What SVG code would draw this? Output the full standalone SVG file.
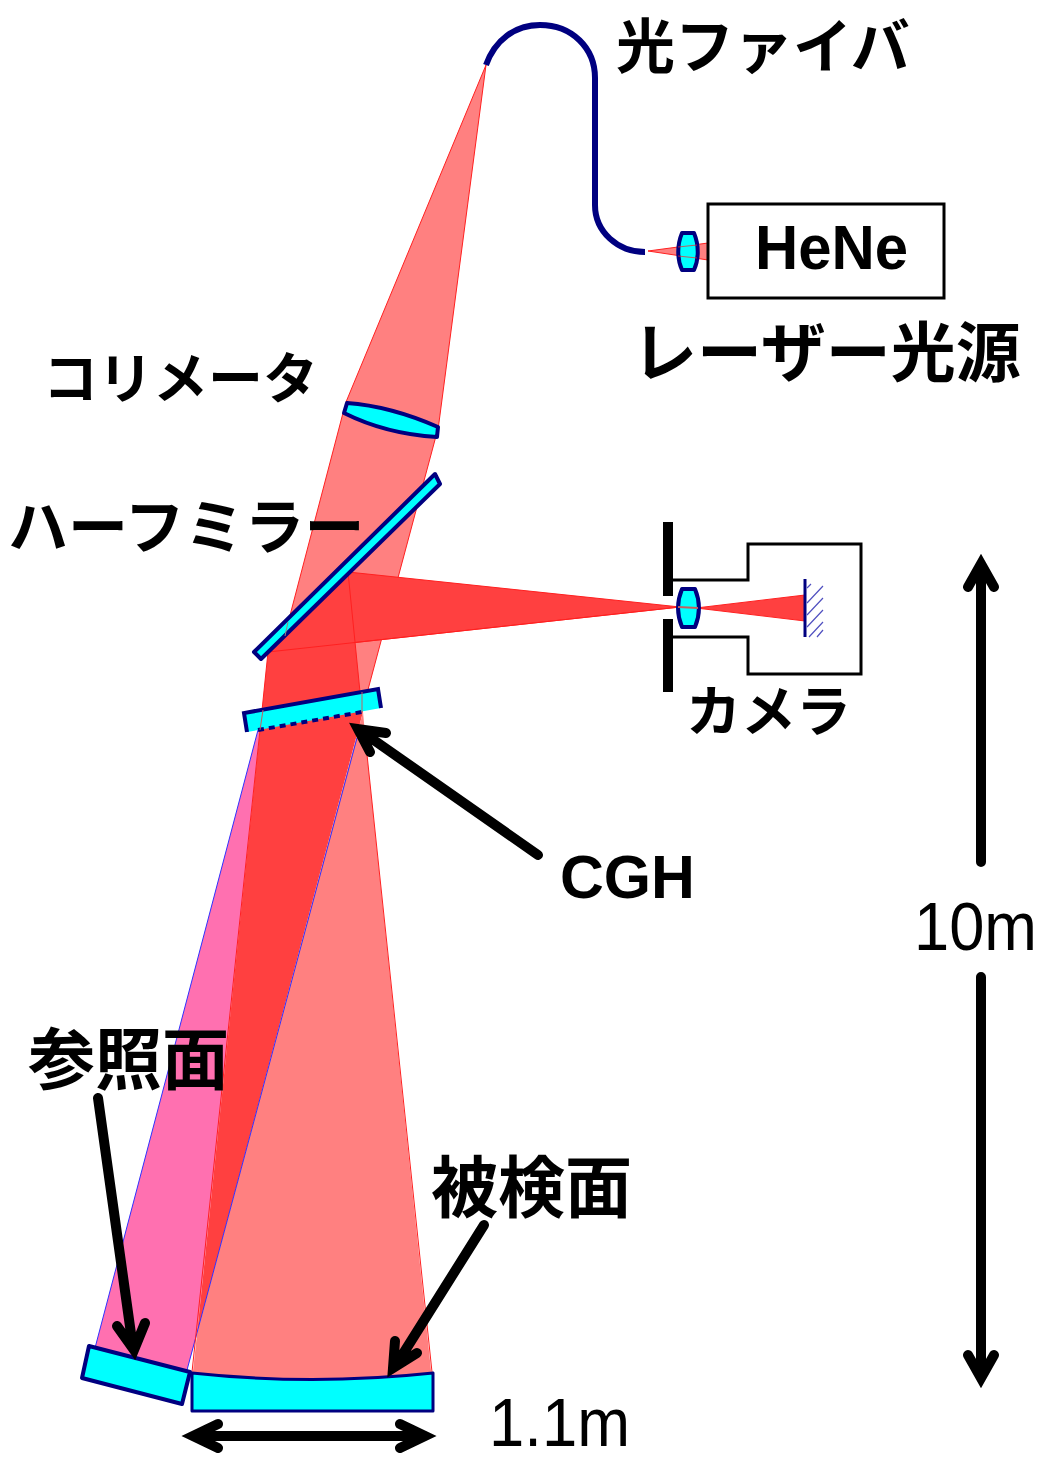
<svg xmlns="http://www.w3.org/2000/svg" width="1057" height="1459" viewBox="0 0 1057 1459">
<style>
.optic{fill:#00ffff;stroke:#000080;stroke-width:4;stroke-linejoin:round}
.beam{fill:#ff8080;stroke:#ff2020;stroke-width:1}
.dark{fill:#ff4040;stroke:#ff2020;stroke-width:1}
.pink{fill:#ff70b0;stroke:none}
.solid{fill:#ff4040;stroke:none}
.sal{fill:#ff8080;stroke:none}
.redl{stroke:#ff2020;stroke-width:1;fill:none}
.bluel{stroke:#3030ff;stroke-width:1;fill:none}
.box{fill:none;stroke:#000;stroke-width:3}
.arrow{fill:none;stroke:#000;stroke-width:10;stroke-linecap:round;stroke-linejoin:miter;stroke-miterlimit:10}
.wall{fill:#000}
.jp{font-family:"Noto Sans CJK JP","Noto Sans",sans-serif;font-weight:700;fill:#000}
.la{font-family:"Liberation Sans",Arial,sans-serif;fill:#000}
</style>
<g id="beams">
<polygon class="beam" points="486,65 346,402 438,430"/>
<polygon class="beam" points="343,413 436,436 362,712 260,730"/>
<polygon class="dark" points="348,572 680,607 268,652"/>
<polygon class="solid" points="268,652 348,572 362,712 260,730"/>
<path class="redl" d="M268,652L260,730M348,572L362,712M268,652L680,607"/>
<polygon class="dark" points="696,608 805,595 805,621"/>
<polygon class="beam" points="648,251 708,243 708,260"/>
<polygon class="pink" points="258,730 260,730 197,1334 187,1370 95,1348"/>
<polygon class="solid" points="260,730 363,712 197,1334"/>
<polygon class="sal" points="363,712 366,745 432,1380 192,1380 197,1334"/>
<path class="bluel" d="M258,730L95,1348M357,738L187,1370"/>
<path class="redl" d="M366,745L432,1372M260,730L192,1372"/>
</g>
<g id="fiber"><path d="M486,65C495,40 515,25 540,25C572,25 595,48 595,78L595,205C595,232 618,252 645,252" fill="none" stroke="#000080" stroke-width="6"/></g>
<g id="laser"><rect class="box" x="708" y="204" width="236" height="94"/>
<text class="la" x="755" y="269" font-size="63" font-weight="700" textLength="153" lengthAdjust="spacingAndGlyphs">HeNe</text></g>
<g id="laser-lens"><path class="optic" d="M682,233L694,233C699,245 699,259 694,270L682,270C677,259 677,245 682,233Z"/>
<path d="M678,247L697,245M678,256L697,258" stroke="#ff2020" stroke-width="1" fill="none" opacity=".7"/></g>
<g id="collimator"><path class="optic" d="M347,403Q390,406 438,427L437,437Q386,434 344,413Z"/></g>
<g id="half-mirror"><polygon class="optic" points="435,474 440,484 261,659 254,652"/>
<path d="M288,622L285,636" stroke="#a08080" stroke-width="1"/></g>
<g id="cgh"><polygon points="244,713 378,689 381,708 247,732" fill="#00ffff"/>
<path d="M247,732L244,713L378,689L381,708" fill="none" stroke="#000080" stroke-width="4"/>
<path d="M258,730L362,712" fill="none" stroke="#000080" stroke-width="4" stroke-dasharray="6 5"/>
<path d="M263,710L260,730M362,692L362,712" stroke="#c06060" stroke-width="1" fill="none"/></g>
<g id="camera">
<rect class="wall" x="663" y="522" width="10" height="74"/><rect class="wall" x="663" y="619" width="10" height="73"/>
<path class="box" d="M672,580H748V544H861V674H748V637H672"/>
<path class="optic" d="M682,589L695,589C700,601 700,615 695,627L682,627C677,615 677,601 682,589Z"/>
<path d="M678,607L698,608" stroke="#c06060" stroke-width="2" fill="none"/>
<path d="M805,579V637" stroke="#000080" stroke-width="3"/>
<path d="M807,588L811,584M807,603L823,586M807,615L823,598M807,627L823,610M809,637L823,622M817,637L823,630" stroke="#5050c0" stroke-width="1.2" fill="none"/>
</g>
<g id="reference-mirror"><polygon class="optic" points="89,1346 190,1372 182,1404 82,1378"/></g>
<g id="test-mirror"><path class="optic" style="stroke-width:3" d="M192,1373Q312,1386 433,1373V1411H192Z"/></g>
<g id="connectors">
<path class="arrow" d="M538,855L358,729M386,733L358,729L370,752"/>
<path class="arrow" d="M98,1098L133,1348M117,1326L134,1350L145,1323"/>
<path class="arrow" d="M484,1225L396,1365M395,1341L393,1368L417,1353"/>
<path class="arrow" d="M981,862V566M968,587L981,564L994,587"/>
<path class="arrow" d="M981,977V1376M968,1355L981,1378L994,1355"/>
<path class="arrow" d="M195,1436H425M218,1424L193,1436L218,1448M400,1424L425,1436L400,1448"/>
</g>
<g id="labels">
<text class="jp" x="616" y="68" font-size="59">光ファイバ</text>
<text class="jp" x="632" y="376" font-size="65">レーザー光源</text>
<text class="jp" x="43" y="398" font-size="55">コリメータ</text>
<text class="jp" x="8" y="549" font-size="60">ハーフミラー</text>
<text class="jp" x="686" y="731" font-size="55">カメラ</text>
<text class="la" x="560" y="898" font-size="62" font-weight="700" textLength="135" lengthAdjust="spacingAndGlyphs">CGH</text>
<text class="la" x="914" y="950" font-size="69" textLength="123" lengthAdjust="spacingAndGlyphs">10m</text>
<text class="la" x="489" y="1446" font-size="69" textLength="141" lengthAdjust="spacingAndGlyphs">1.1m</text>
<text class="jp" x="28" y="1084" font-size="67">参照面</text>
<text class="jp" x="431" y="1212" font-size="67">被検面</text>
</g>
</svg>
